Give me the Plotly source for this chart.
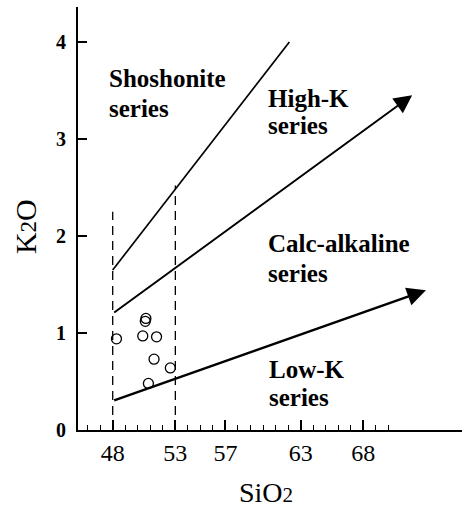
import plotly.graph_objects as go

# ---- data ----
sample_sio2 = [48.3, 50.4, 51.5, 50.6, 50.65, 51.3, 52.6, 50.85]
sample_k2o = [0.94, 0.97, 0.96, 1.12, 1.15, 0.73, 0.64, 0.48]

# boundary lines (SiO2, K2O)
shoshonite_x = [48, 62.1]
shoshonite_y = [1.65, 4.0]
highk_x = [48, 71.9]
highk_y = [1.2, 3.45]
lowk_x = [48, 73.0]
lowk_y = [0.3, 1.44]

# dashed verticals
dash1_x = [48, 48]
dash1_y = [0, 2.25]
dash2_x = [53, 53]
dash2_y = [0, 2.52]

x_ticks = [48, 53, 57, 63, 68]
y_ticks = [0, 1, 2, 3, 4]
x_minor = list(range(46, 71))

# field labels: one entry per text line (text, SiO2, K2O)
label_text = ["Shoshonite", "series", "High-K", "series",
              "Calc-alkaline", "series", "Low-K", "series"]
label_x = [47.6, 47.6, 60.3, 60.3, 60.3, 60.3, 60.4, 60.4]
label_y = [3.62, 3.31, 3.42, 3.14, 1.92, 1.61, 0.62, 0.33]

SERIF = "Liberation Serif"

fig = go.Figure()

fig.add_trace(go.Scatter(x=shoshonite_x, y=shoshonite_y, mode="lines",
                         line=dict(color="black", width=1.7), hoverinfo="skip"))
for dx, dy in [(dash1_x, dash1_y), (dash2_x, dash2_y)]:
    fig.add_trace(go.Scatter(x=dx, y=dy, mode="lines",
                             line=dict(color="black", width=1.3, dash="9px,6px"),
                             hoverinfo="skip"))

fig.add_trace(go.Scatter(x=sample_sio2, y=sample_k2o, mode="markers",
                         marker=dict(symbol="circle-open", size=10,
                                     color="black", line=dict(width=1.3))))

# arrows
for xs, ys, w, s in [(highk_x, highk_y, 2.0, 1.8), (lowk_x, lowk_y, 2.5, 1.5)]:
    fig.add_annotation(x=xs[1], y=ys[1], ax=xs[0], ay=ys[0],
                       xref="x", yref="y", axref="x", ayref="y",
                       text="", showarrow=True, arrowhead=2,
                       arrowsize=s, arrowwidth=w,
                       arrowcolor="black", standoff=0, startstandoff=0)

for txt, lx, ly in zip(label_text, label_x, label_y):
    fig.add_annotation(x=lx, y=ly, xref="x", yref="y", text=txt,
                       showarrow=False, xanchor="left", yanchor="middle",
                       align="left", borderpad=0,
                       font=dict(family=SERIF, size=25, color="black",
                                 weight="bold"))

# axis titles
fig.add_annotation(x=-0.135, y=0.48, xref="paper", yref="paper",
                   xanchor="center", yanchor="middle",
                   text="K<span style='font-size:23px'>2</span>O",
                   textangle=-90, showarrow=False,
                   font=dict(family=SERIF, size=30, color="black"))
fig.add_annotation(x=0.489, y=-0.147, xref="paper", yref="paper",
                   xanchor="center", yanchor="middle",
                   text="SiO<span style='font-size:21px'>2</span>",
                   showarrow=False,
                   font=dict(family=SERIF, size=28, color="black"))

fig.update_layout(
    width=470, height=511,
    margin=dict(l=78, r=8, t=7, b=81),
    paper_bgcolor="white", plot_bgcolor="white",
    showlegend=False,
    xaxis=dict(range=[45.23, 75.88], tickmode="array", tickvals=x_ticks,
               ticks="inside", ticklen=10, tickwidth=1.5, tickcolor="black",
               showline=True, linewidth=2, linecolor="black",
               showgrid=False, zeroline=False,
               tickfont=dict(family=SERIF, size=24, color="black"),
               minor=dict(tickmode="array", tickvals=x_minor, ticks="inside",
                          ticklen=5, tickwidth=1.2, tickcolor="black",
                          showgrid=False)),
    yaxis=dict(range=[0, 4.36], tickmode="array", tickvals=y_ticks,
               ticks="inside", ticklen=9, tickwidth=1.5, tickcolor="black",
               showline=True, linewidth=2, linecolor="black",
               showgrid=False, zeroline=False,
               ticklabelstandoff=6,
               tickfont=dict(family=SERIF, size=20, color="black",
                             weight="bold")),
)

fig.write_html("out.html")
